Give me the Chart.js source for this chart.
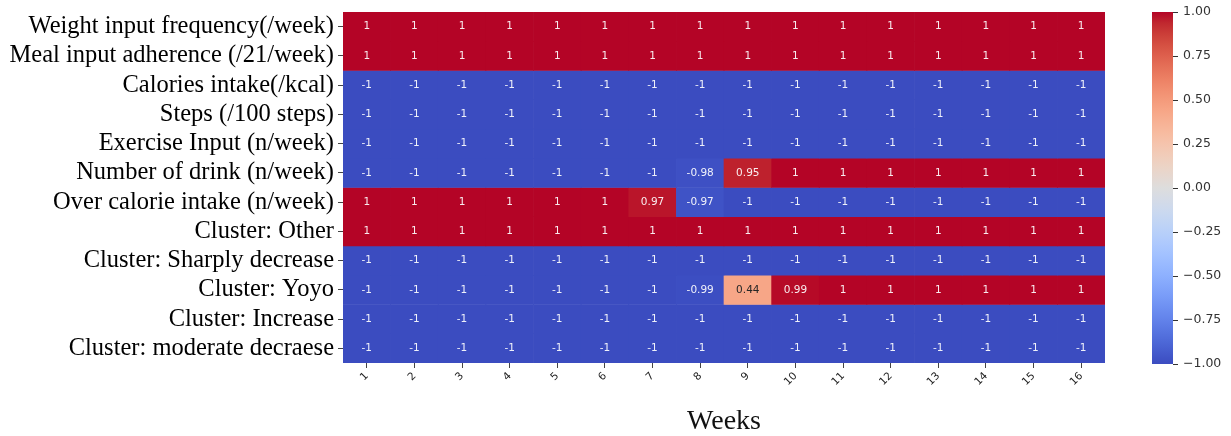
<!DOCTYPE html>
<html>
<head>
<meta charset="utf-8">
<script src="https://cdn.jsdelivr.net/npm/chart.js@4"></script>
<style>
  html, body { margin: 0; padding: 0; background: #fff; }
  body { width: 1231px; height: 436px; position: relative; overflow: hidden; }
  #mainBox { position: absolute; left: 0; top: 0; width: 1110px; height: 436px; }
  #cbarBox { position: absolute; left: 1152px; top: 0; width: 79px; height: 436px; }
</style>
</head>
<body>
<div id="mainBox"><canvas id="heat"></canvas></div>
<div id="cbarBox"><canvas id="cbar"></canvas></div>
<script>
const weeks = ['1','2','3','4','5','6','7','8','9','10','11','12','13','14','15','16'];

const rowLabels = [
  'Weight input frequency(/week)',
  'Meal input adherence (/21/week)',
  'Calories intake(/kcal)',
  'Steps (/100 steps)',
  'Exercise Input (n/week)',
  'Number of drink (n/week)',
  'Over calorie intake (n/week)',
  'Cluster: Other',
  'Cluster: Sharply decrease',
  'Cluster: Yoyo',
  'Cluster: Increase',
  'Cluster: moderate decraese'
];

const weightFreq    = [1, 1, 1, 1, 1, 1, 1, 1, 1, 1, 1, 1, 1, 1, 1, 1];
const mealAdherence = [1, 1, 1, 1, 1, 1, 1, 1, 1, 1, 1, 1, 1, 1, 1, 1];
const calories      = [-1, -1, -1, -1, -1, -1, -1, -1, -1, -1, -1, -1, -1, -1, -1, -1];
const steps         = [-1, -1, -1, -1, -1, -1, -1, -1, -1, -1, -1, -1, -1, -1, -1, -1];
const exercise      = [-1, -1, -1, -1, -1, -1, -1, -1, -1, -1, -1, -1, -1, -1, -1, -1];
const drinks        = [-1, -1, -1, -1, -1, -1, -1, -0.98, 0.95, 1, 1, 1, 1, 1, 1, 1];
const overCalorie   = [1, 1, 1, 1, 1, 1, 0.97, -0.97, -1, -1, -1, -1, -1, -1, -1, -1];
const clusterOther  = [1, 1, 1, 1, 1, 1, 1, 1, 1, 1, 1, 1, 1, 1, 1, 1];
const clusterSharp  = [-1, -1, -1, -1, -1, -1, -1, -1, -1, -1, -1, -1, -1, -1, -1, -1];
const clusterYoyo   = [-1, -1, -1, -1, -1, -1, -1, -0.99, 0.44, 0.99, 1, 1, 1, 1, 1, 1];
const clusterInc    = [-1, -1, -1, -1, -1, -1, -1, -1, -1, -1, -1, -1, -1, -1, -1, -1];
const clusterModer  = [-1, -1, -1, -1, -1, -1, -1, -1, -1, -1, -1, -1, -1, -1, -1, -1];

const rowValues = [weightFreq, mealAdherence, calories, steps, exercise, drinks,
  overCalorie, clusterOther, clusterSharp, clusterYoyo, clusterInc, clusterModer];

const cbarTicks = [-1, -0.75, -0.5, -0.25, 0, 0.25, 0.5, 0.75, 1];

// coolwarm colormap (33 stops)
const coolwarm = [
  [59,76,192],[68,90,204],[77,104,215],[87,117,225],[98,130,234],[108,142,241],
  [119,154,247],[130,165,251],[141,176,254],[152,185,255],[163,194,255],[174,201,253],
  [184,208,249],[194,213,244],[204,217,238],[213,219,230],[221,221,221],[229,216,209],
  [236,211,197],[241,204,185],[245,196,173],[247,187,160],[247,177,148],[247,166,135],
  [244,154,123],[241,141,111],[236,127,99],[229,112,88],[222,96,77],[213,80,66],
  [203,62,56],[192,40,47],[180,4,38]
];

function cmapRGB(v) {
  let t = (v + 1) / 2;
  t = Math.max(0, Math.min(1, t));
  const pos = t * (coolwarm.length - 1);
  const i = Math.min(Math.floor(pos), coolwarm.length - 2);
  const f = pos - i;
  const a = coolwarm[i], b = coolwarm[i + 1];
  return [0, 1, 2].map(k => Math.round(a[k] + (b[k] - a[k]) * f));
}
function cmap(v) {
  const c = cmapRGB(v);
  return 'rgb(' + c.join(',') + ')';
}
function textColor(v) {
  const lin = cmapRGB(v).map(c => {
    c = c / 255;
    return c <= 0.03928 ? c / 12.92 : Math.pow((c + 0.055) / 1.055, 2.4);
  });
  const lum = 0.2126 * lin[0] + 0.7152 * lin[1] + 0.0722 * lin[2];
  return lum > 0.408 ? '#262626' : 'rgba(255,255,255,0.92)';
}

const datasets = rowValues.map((vals, r) => ({
  label: rowLabels[r],
  data: vals.map(() => [r, r + 1]),
  values: vals,
  backgroundColor: vals.map(cmap),
  borderWidth: 0,
  grouped: false,
  categoryPercentage: 1,
  barPercentage: 1
}));

const cellLabels = {
  id: 'cellLabels',
  afterDatasetsDraw(chart) {
    const ctx = chart.ctx;
    ctx.save();
    ctx.font = '10.5px "DejaVu Sans"';
    ctx.textAlign = 'center';
    ctx.textBaseline = 'middle';
    chart.data.datasets.forEach((ds, i) => {
      chart.getDatasetMeta(i).data.forEach((bar, j) => {
        const v = ds.values[j];
        const p = bar.getCenterPoint();
        ctx.fillStyle = textColor(v);
        ctx.fillText(String(v), p.x, p.y);
      });
    });
    ctx.restore();
  }
};

new Chart(document.getElementById('heat'), {
  type: 'bar',
  data: { labels: weeks, datasets: datasets },
  options: {
    responsive: true,
    maintainAspectRatio: false,
    animation: false,
    layout: { padding: { top: 12, right: 5, left: 0, bottom: 0 } },
    plugins: { legend: { display: false }, tooltip: { enabled: false } },
    scales: {
      x: {
        grid: { display: true, drawOnChartArea: false, offset: false, tickLength: 5, color: '#444' },
        border: { display: false },
        ticks: { font: { family: 'DejaVu Sans', size: 10.5 }, color: '#222', minRotation: 45, maxRotation: 45, padding: 2 },
        title: { display: true, text: 'Weeks', font: { family: 'Liberation Serif', size: 28, lineHeight: 1 }, color: '#111', padding: { top: 0, bottom: 0 } },
        afterFit(scale) { scale.height = 73; }
      },
      y: {
        min: 0,
        max: 12,
        reverse: true,
        afterBuildTicks(scale) { scale.ticks = rowLabels.map((l, i) => ({ value: i + 0.5 })); },
        grid: { display: true, drawOnChartArea: false, tickLength: 5, color: '#444' },
        border: { display: false },
        ticks: {
          autoSkip: false,
          font: { family: 'Liberation Serif', size: 24.5 },
          color: '#000',
          padding: 4,
          callback: (v, i) => rowLabels[i]
        },
        afterFit(scale) {
          scale.width = 343;
          scale.paddingTop = 0;
          scale.paddingBottom = 0;
        }
      }
    }
  },
  plugins: [cellLabels]
});

new Chart(document.getElementById('cbar'), {
  type: 'bar',
  data: {
    labels: [''],
    datasets: [{
      data: [[-1, 1]],
      borderWidth: 0,
      categoryPercentage: 1,
      barPercentage: 1,
      backgroundColor(context) {
        const area = context.chart.chartArea;
        if (!area) return cmap(0);
        const g = context.chart.ctx.createLinearGradient(0, area.bottom, 0, area.top);
        coolwarm.forEach((c, k) => g.addColorStop(k / (coolwarm.length - 1), 'rgb(' + c.join(',') + ')'));
        return g;
      }
    }]
  },
  options: {
    responsive: true,
    maintainAspectRatio: false,
    animation: false,
    layout: { padding: { top: 12, bottom: 72, left: 0, right: 0 } },
    plugins: { legend: { display: false }, tooltip: { enabled: false } },
    scales: {
      x: { display: false },
      y: {
        position: 'right',
        min: -1,
        max: 1,
        afterBuildTicks(scale) { scale.ticks = cbarTicks.map(v => ({ value: v })); },
        grid: { display: true, drawOnChartArea: false, tickLength: 5, color: '#333' },
        border: { display: false },
        ticks: {
          font: { family: 'DejaVu Sans', size: 12.5 },
          color: '#333',
          padding: 5,
          callback: v => v.toFixed(2).replace('-', '\u2212')
        },
        afterFit(scale) {
          scale.width = 58;
          scale.paddingTop = 0;
          scale.paddingBottom = 0;
        }
      }
    }
  }
});
</script>
</body>
</html>
